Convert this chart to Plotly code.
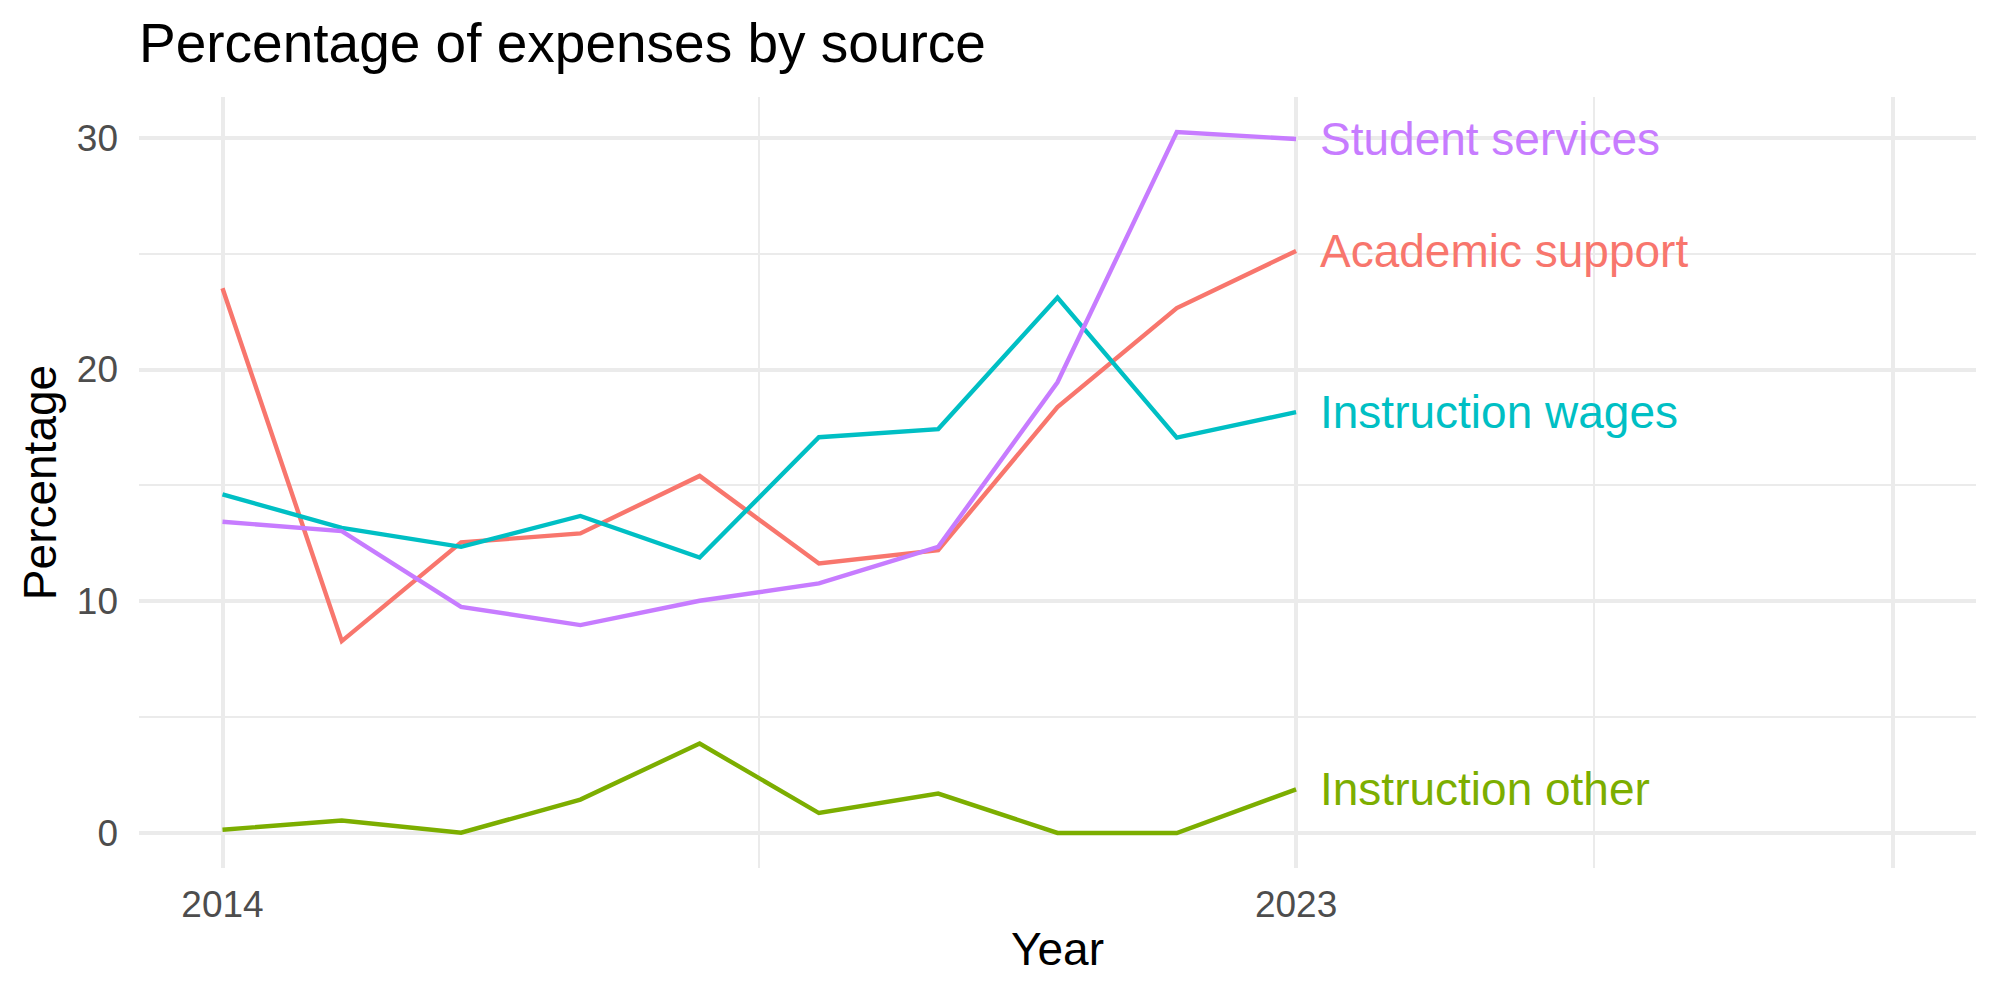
import plotly.graph_objects as go

years = [2014, 2015, 2016, 2017, 2018, 2019, 2020, 2021, 2022, 2023]
series_names = ["Academic support", "Instruction other", "Instruction wages", "Student services"]
academic_support = [23.51, 8.28, 12.54, 12.93, 15.41, 11.63, 12.20, 18.38, 22.65, 25.12]
instruction_other = [0.14, 0.54, 0.01, 1.44, 3.86, 0.86, 1.70, 0.00, 0.00, 1.88]
instruction_wages = [14.61, 13.17, 12.35, 13.68, 11.89, 17.08, 17.43, 23.11, 17.06, 18.16]
student_services = [13.43, 13.03, 9.76, 8.97, 10.02, 10.77, 12.35, 19.45, 30.25, 29.95]
colors = ["#F8766D", "#7CAE00", "#00BFC4", "#C77CFF"]

x_tickvals = [2014, 2023, 2028]
x_ticktext = ["2014", "2023", ""]
x_minor = [2018.5, 2025.5]
y_tickvals = [0, 10, 20, 30]
y_minor = [5, 15, 25]

FONT = "Liberation Sans, Arial, Helvetica, sans-serif"
GRID = "#EBEBEB"

all_series = [academic_support, instruction_other, instruction_wages, student_services]

fig = go.Figure()
for name, vals, col in zip(series_names, all_series, colors):
    fig.add_trace(go.Scatter(x=years, y=vals, mode="lines", name=name,
                             line=dict(color=col, width=4.4), showlegend=False,
                             hoverinfo="skip"))

plot_top, plot_bottom = 97, 868
paper_h = plot_bottom - plot_top

annotations = []
for name, vals, col in zip(series_names, all_series, colors):
    annotations.append(dict(x=years[-1], y=vals[-1], xref="x", yref="y",
                            text=name, showarrow=False, xanchor="left", yanchor="middle",
                            xshift=22, font=dict(family=FONT, size=46, color=col)))
annotations.append(dict(x=0, y=(plot_bottom - 43) / paper_h, xref="paper", yref="paper",
                        text="Percentage of expenses by source", showarrow=False,
                        xanchor="left", yanchor="middle", xshift=-2,
                        font=dict(family=FONT, size=55, color="black")))

ymin, ymax = -1.5125, 31.7625

fig.update_layout(
    width=2000, height=1000,
    margin=dict(l=139, r=24, t=plot_top, b=1000 - plot_bottom, pad=0),
    paper_bgcolor="white", plot_bgcolor="white",
    font=dict(family=FONT, color="#4D4D4D"),
    annotations=annotations,
    xaxis=dict(range=[2013.3, 2028.7], tickmode="array", tickvals=x_tickvals,
               ticktext=x_ticktext, showgrid=True, gridcolor=GRID, gridwidth=4,
               zeroline=False, showline=False, ticks="", ticklabelstandoff=11,
               tickfont=dict(family=FONT, size=37, color="#4D4D4D"),
               minor=dict(tickmode="array", tickvals=x_minor, showgrid=True,
                          gridcolor=GRID, gridwidth=2, ticks=""),
               title=dict(text="Year", font=dict(family=FONT, size=46, color="black"),
                          standoff=8)),
    yaxis=dict(range=[ymin, ymax], tickmode="array", tickvals=y_tickvals,
               showgrid=True, gridcolor=GRID, gridwidth=4,
               zeroline=False, showline=False, ticks="", ticklabelstandoff=20,
               tickfont=dict(family=FONT, size=37, color="#4D4D4D"),
               minor=dict(tickmode="array", tickvals=y_minor, showgrid=True,
                          gridcolor=GRID, gridwidth=2, ticks=""),
               title=dict(text="Percentage", font=dict(family=FONT, size=46, color="black"),
                          standoff=5)),
)

fig.write_html("out.html")
